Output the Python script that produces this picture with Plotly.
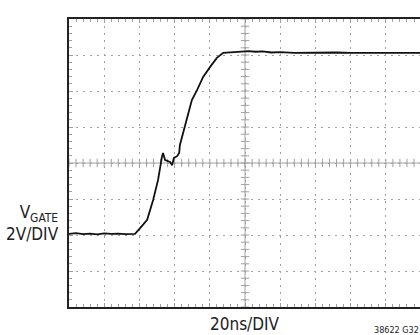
import numpy as np
import plotly.graph_objects as go

# scope trace: time in ns, gate voltage in V (20ns/DIV, 2V/DIV)
time_ns = [0, 4, 8, 12, 16, 20, 24, 28, 32, 35, 37.5, 40.4, 44.4, 47.8, 50.6,
           52.8, 53.4, 54.6, 55.6, 57.4, 58.6, 59.6, 61.4, 62.6, 63.0, 64.8,
           67.0, 69.8, 72.8, 76.2, 80.2, 84.0, 87.6, 92.6, 97, 102, 106, 110,
           115, 120, 128, 136, 144, 152, 160, 168, 176, 184, 192, 200]
v_gate = [-3.94, -3.90, -3.95, -3.92, -3.96, -3.91, -3.94, -3.92, -3.95, -3.93,
          -3.94, -3.62, -3.16, -2.06, -0.94, 0.34, 0.56, 0.16, 0.12, 0.06,
          -0.12, 0.28, 0.38, 0.56, 1.0, 1.66, 2.38, 3.5, 4.06, 4.78, 5.34,
          5.84, 6.12, 6.16, 6.20, 6.22, 6.18, 6.20, 6.14, 6.16, 6.12, 6.14,
          6.12, 6.14, 6.12, 6.13, 6.12, 6.14, 6.12, 6.12]

x_range = [0, 199.4]
y_range = [-8, 8]
font = "Liberation Sans Narrow, Arial Narrow, DejaVu Sans Condensed, sans-serif"
grid = "#a0a0a0"

fig = go.Figure()

# centre cross with small division ticks
fig.add_shape(type="line", x0=0, x1=200, y0=0, y1=0,
              line=dict(color=grid, width=1), layer="below")
fig.add_shape(type="line", x0=100, x1=100, y0=-8, y1=8,
              line=dict(color=grid, width=1), layer="below")
hx = np.arange(0, 200.1, 4)
fig.add_trace(go.Scatter(x=hx, y=np.zeros_like(hx), mode="markers",
                         marker=dict(symbol="line-ns-open", size=6, color=grid,
                                     line=dict(color=grid, width=1)),
                         hoverinfo="skip"))
vy = np.arange(-8, 8.01, 0.4)
fig.add_trace(go.Scatter(x=np.full_like(vy, 100), y=vy, mode="markers",
                         marker=dict(symbol="line-ew-open", size=6, color=grid,
                                     line=dict(color=grid, width=1)),
                         hoverinfo="skip"))

fig.add_trace(go.Scatter(x=time_ns, y=v_gate, mode="lines",
                         line=dict(color="#111111", width=1.8)))

fig.update_layout(
    width=420, height=335,
    margin=dict(l=69, r=0, t=19, b=28, autoexpand=False),
    paper_bgcolor="white", plot_bgcolor="white",
    showlegend=False,
    font=dict(family=font, color="#222222"),
)
fig.update_xaxes(
    range=x_range, dtick=20, tick0=0,
    showgrid=True, gridcolor=grid, gridwidth=1, griddash="2px,5px",
    zeroline=False, showticklabels=False,
    showline=True, linecolor="#222222", linewidth=1.5, mirror="ticks",
    ticks="inside", ticklen=4, tickcolor=grid,
    minor=dict(dtick=4, ticks="inside", ticklen=3, tickcolor=grid, showgrid=False),
)
fig.update_yaxes(
    range=y_range, dtick=2, tick0=0,
    showgrid=True, gridcolor=grid, gridwidth=1, griddash="2px,5px",
    zeroline=False, showticklabels=False,
    showline=True, linecolor="#222222", linewidth=1.5, mirror=False,
    ticks="inside", ticklen=4, tickcolor=grid,
    minor=dict(dtick=0.4, ticks="inside", ticklen=3, tickcolor=grid, showgrid=False),
)

fig.add_annotation(text="V<sub>GATE</sub><br>2V/DIV", xref="paper", yref="paper",
                   x=-0.023, y=0.29, xanchor="right", yanchor="middle",
                   align="right", showarrow=False, font=dict(size=17, family=font))
fig.add_annotation(text="20ns/DIV", xref="paper", yref="paper",
                   x=0.5014, y=-0.059, xanchor="center", yanchor="middle",
                   showarrow=False, font=dict(size=17, family=font))
fig.add_annotation(text="38622 G32", xref="paper", yref="paper",
                   x=1.003, y=-0.08, xanchor="right", yanchor="middle",
                   showarrow=False, font=dict(size=9, family=font))

fig.write_html("out.html", config={"displayModeBar": False},
               post_script="document.body.style.margin='0px';")
